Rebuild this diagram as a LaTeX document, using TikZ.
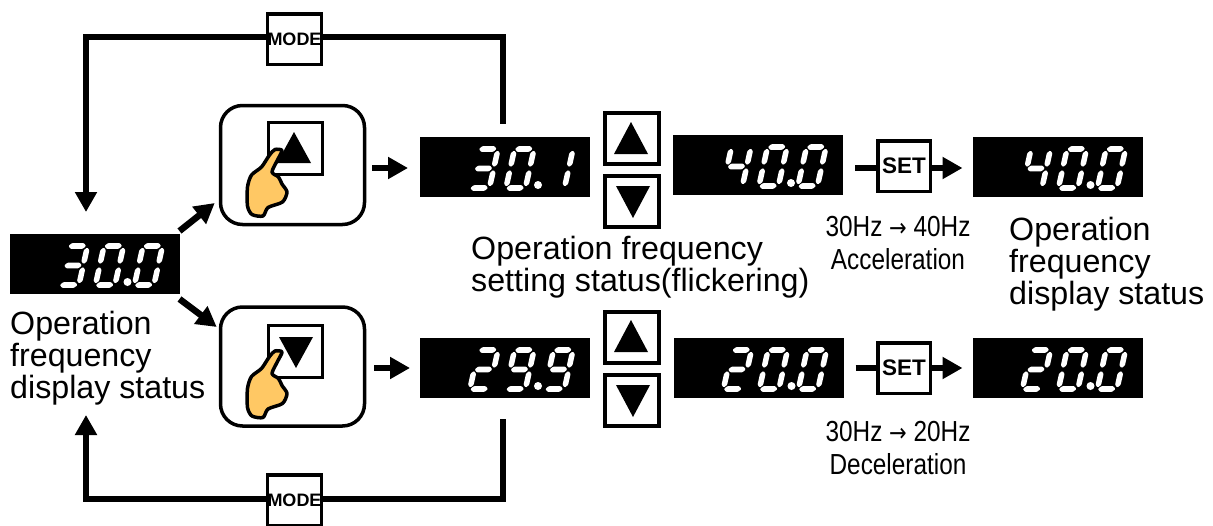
\documentclass[tikz,border=0pt]{standalone}
\usepackage{fontspec}
\setmainfont{Liberation Sans}
\newfontfamily\narrowfont[FakeStretch=0.84]{Liberation Sans}
\newfontfamily\arrowfont[FakeStretch=0.84]{DejaVu Sans}
\usetikzlibrary{arrows.meta}
\definecolor{handfill}{HTML}{FFC864}
% seven-segment drawing
\newcommand\hsg[3]{\fill[white,rounded corners=0.8pt] (#1,#3)--(#1+2.6,#3-2.8)--(#2-2.6,#3-2.8)--(#2,#3)--(#2-2.6,#3+2.8)--(#1+2.6,#3+2.8)--cycle;}
\newcommand\vsg[3]{\fill[white,rounded corners=0.8pt] (#1,#2)--(#1+2.8,#2+2.6)--(#1+2.8,#3-2.6)--(#1,#3)--(#1-2.8,#3-2.6)--(#1-2.8,#2+2.6)--cycle;}
\newcommand\sgA{\hsg{3}{20.5}{-41}}
\newcommand\sgB{\vsg{22}{-39.5}{-23}}
\newcommand\sgC{\vsg{22}{-20}{-3.5}}
\newcommand\sgD{\hsg{3}{20.5}{-2}}
\newcommand\sgE{\vsg{2.5}{-20}{-3.5}}
\newcommand\sgF{\vsg{2.5}{-39.5}{-23}}
\newcommand\sgG{\hsg{3}{20.5}{-21.5}}
\newcommand\sevenseg[3]{\begin{scope}[shift={(#1,#2)},xslant=.22]\foreach \s in {#3}{\csname sg\s\endcsname}\end{scope}}
\newcommand\readout[4]{\begin{scope}[shift={(#1.south west)}]
  \sevenseg{47}{-7}{#2}\sevenseg{83}{-7}{#3}\sevenseg{122}{-7}{#4}
  \fill[white] (118,-12) circle (4);
\end{scope}}
\newcommand\hand[2]{\begin{scope}[shift={(#1,#2)}]
  \draw[handline] plot[smooth cycle,tension=.45] coordinates {(282,150.5)(277.5,160)(272,172)(278.5,177)(282,184)(287,192)(282.5,202)(268,207.5)(263,216)(252,214.5)(247.5,206)(247.5,187)(251.5,175)(261.5,167)(269.5,155)(275,149.5)};
\end{scope}}
\tikzset{
  x=1pt,y=-1pt,
  disp/.style={fill=black,draw=none,minimum width=170,minimum height=60,inner sep=0,outer sep=0},
  handbox/.style={draw=black,line width=3.5pt,rounded corners=22,minimum width=144,minimum height=119,inner sep=0},
  inbox/.style={draw=black,line width=3.5pt,minimum width=54,minimum height=52,inner sep=0},
  keybox/.style={draw=black,fill=white,line width=4pt,minimum width=54,minimum height=51,inner sep=0},
  modebox/.style={draw=black,fill=white,line width=3.5pt,minimum width=53.5,minimum height=50.5,inner sep=0,font=\fontsize{18}{18}\bfseries\selectfont},
  setbox/.style={draw=black,fill=white,line width=3.5pt,minimum width=52.5,minimum height=50.5,inner sep=0,font=\fontsize{22.5}{22.5}\bfseries\selectfont},
  handline/.style={draw=black,fill=handfill,line width=3.5pt,line join=round},
  tri/.style={fill=black,draw=none},
  arr/.style={line width=6.5pt,-{Triangle[length=20pt,width=21pt]}},
  bar/.style={line width=6.5pt},
  lab/.style={inner sep=0,align=left,anchor=north west,font=\fontsize{32.2}{32}\selectfont},
  hz/.style={inner sep=0,align=center,font=\narrowfont\fontsize{29}{32.5}\selectfont},
}
\begin{document}
\begin{tikzpicture}
\useasboundingbox (0,0) rectangle (1213,525);
% displays
\node[disp] (d0) at (94.5,264) {};
\node[disp] (b1) at (505,167) {};
\node[disp] (c1) at (758,165) {};
\node[disp] (e1) at (1057.5,167) {};
\node[disp] (b2) at (505,368) {};
\node[disp] (c2) at (758.5,368) {};
\node[disp] (e2) at (1057.5,368) {};
\readout{d0}{A,B,C,D,G}{A,B,C,D,E,F}{A,B,C,D,E,F}
\readout{b1}{A,B,C,D,G}{A,B,C,D,E,F}{B,C}
\readout{c1}{B,C,F,G}{A,B,C,D,E,F}{A,B,C,D,E,F}
\readout{e1}{B,C,F,G}{A,B,C,D,E,F}{A,B,C,D,E,F}
\readout{b2}{A,B,D,E,G}{A,B,C,D,F,G}{A,B,C,D,F,G}
\readout{c2}{A,B,D,E,G}{A,B,C,D,E,F}{A,B,C,D,E,F}
\readout{e2}{A,B,D,E,G}{A,B,C,D,E,F}{A,B,C,D,E,F}
% hand panels
\node[handbox] (h1) at (292.5,165) {};
\node[inbox] (i1) at (295.5,148.5) {};
\fill[tri] (294,132)--(311,163)--(277,163)--cycle;
\hand{0}{0}
\node[handbox] (h2) at (292.5,366.5) {};
\node[inbox] (i2) at (295.5,351.5) {};
\fill[tri] (279,337)--(313,337)--(296,368)--cycle;
\hand{0}{201.5}
% up/down keys
\node[keybox] (ku1) at (632,138.5) {};
\node[keybox] (kd1) at (632,201.5) {};
\node[keybox] (ku2) at (632,337) {};
\node[keybox] (kd2) at (632,400) {};
\fill[tri] (631,122)--(648,154)--(614,154)--cycle;
\fill[tri] (616,186)--(650,186)--(633,218)--cycle;
\fill[tri] (631,320)--(648,352)--(614,352)--cycle;
\fill[tri] (616,385)--(650,385)--(633,417)--cycle;
% mode keys and loops
\node[modebox] (mt) at (294.5,39) {MODE};
\node[modebox] (mb) at (294.5,500) {\raisebox{-1.5pt}{MODE}};
\draw[arr] ([yshift=2]mt.west) -| ([shift={(-8.5,-22)}]d0.north);
\draw[bar] ([yshift=2]mt.east) -| ([shift={(-2,-13)}]b1.north);
\draw[arr] ([yshift=1]mb.west) -| ([shift={(-8.5,121)}]d0.south);
\draw[bar] ([yshift=1]mb.east) -| ([shift={(-2,21)}]b2.south);
% short arrows
\draw[arr] ([shift={(0,-3)}]d0.north east) -- ([shift={(-4,38)}]h1.west);
\draw[arr] ([shift={(0,5)}]d0.south east) -- ([shift={(-2,-39.5)}]h2.west);
\draw[arr] ([shift={(6,3)}]h1.east) -- ([shift={(-12,1)}]b1.west);
\draw[arr] ([shift={(8,1.5)}]h2.east) -- ([xshift=-10]b2.west);
% set keys
\node[setbox] (s1) at (904,166) {SET};
\node[setbox] (s2) at (904,368) {SET};
\draw[bar] ([shift={(12,3)}]c1.east) -- ([yshift=-2]s1.west);
\draw[arr] ([yshift=-2]s1.east) -- ([shift={(-10,1)}]e1.west);
\draw[bar] ([xshift=12]c2.east) -- (s2.west);
\draw[arr] (s2.east) -- ([xshift=-10]e2.west);
% labels
\node[lab] (l0) at (10,311) {Operation\\frequency\\display status};
\node[lab] (l1) at (471,236) {Operation frequency\\setting status(flickering)};
\node[lab] (l2) at (1009,217) {Operation\\frequency\\display status};
\node[hz] (z1) at (898,243) {30Hz {\arrowfont\fontsize{25}{25}\selectfont →} 40Hz\\Acceleration};
\node[hz] (z2) at (898,448) {30Hz {\arrowfont\fontsize{25}{25}\selectfont →} 20Hz\\Deceleration};
\end{tikzpicture}
\end{document}
